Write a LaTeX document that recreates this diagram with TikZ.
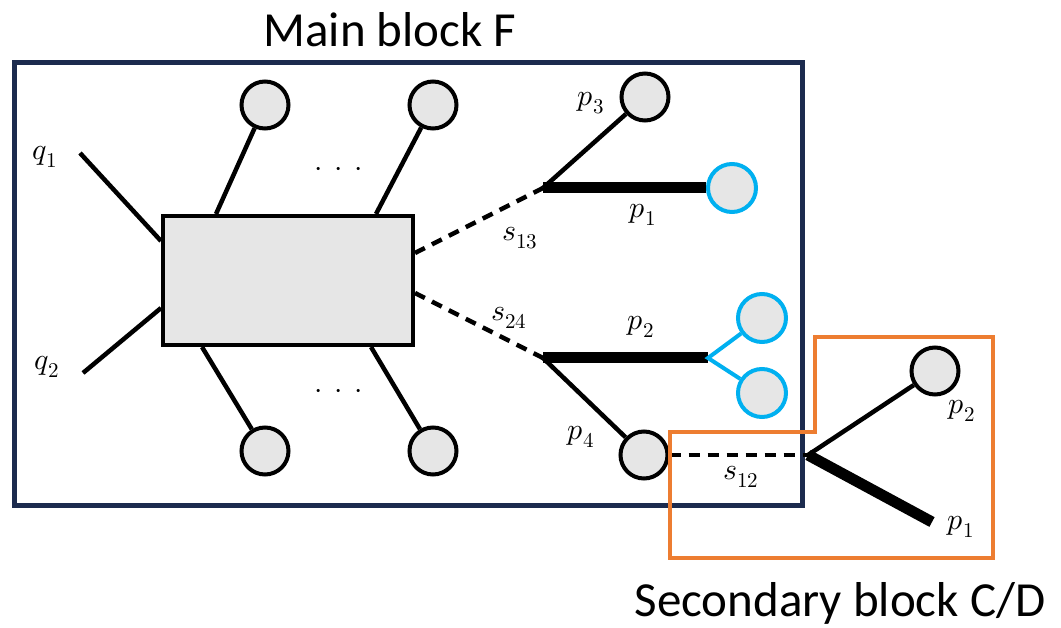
\documentclass[tikz,border=0pt]{standalone}
\usepackage{fontspec}
\usepackage{unicode-math}
\setmainfont{Carlito}
\setmathfont{Latin Modern Math}
\usetikzlibrary{calc}
\definecolor{navy}{HTML}{1C2B4E}
\definecolor{cyanline}{HTML}{00B0F0}
\definecolor{orangeline}{HTML}{ED7D31}
\definecolor{leaffill}{HTML}{E6E6E6}
\tikzset{
  leaf/.style={circle, draw=black, line width=4pt, fill=leaffill, minimum size=47pt, inner sep=0pt},
  cyanleaf/.style={leaf, draw=cyanline, minimum size=48pt},
  edge/.style={line width=4.5pt},
  heavy/.style={line width=11pt},
  dashedge/.style={line width=4.5pt, dash pattern=on 11pt off 8pt},
  lbl/.style={font=\fontsize{30}{36}\selectfont, inner sep=0pt},
  title/.style={font=\fontsize{49}{56}\selectfont, inner sep=0pt}
}
\newcommand{\gapdots}{$\cdot\,\cdot\,\cdot$}
\begin{document}
\begin{tikzpicture}[x=1pt,y=-1pt]
\useasboundingbox (0,0) rectangle (1061,628);

% main block frame and title
\draw[navy, line width=5pt] (14,63) rectangle (802,505);
\node[title] (maintitle) at (390,30) {Main block F};

% central vertex
\node[draw=black, line width=4pt, fill=leaffill, minimum width=250pt, minimum height=129pt, inner sep=0pt] (core) at (288,280.5) {};

% outer leaves of the central vertex
\node[leaf] (t1) at (265,105) {};
\node[leaf] (t2) at (433,105) {};
\node[leaf] (b1) at (265,451) {};
\node[leaf] (b2) at (433,451) {};
\draw[edge] ($(core.north west)+(55,0)$) -- (t1);
\draw[edge] ($(core.north west)+(215,0)$) -- (t2);
\draw[edge] ($(core.south west)+(41,0)$) -- (b1);
\draw[edge] ($(core.south west)+(210,0)$) -- (b2);
\node[lbl] (dtop) at (339,172) {\gapdots};
\node[lbl] (dbot) at (339,394) {\gapdots};

% incoming legs
\coordinate (q1end) at (80,153);
\coordinate (q2end) at (83,373);
\draw[edge] (q1end) -- ($(core.north west)+(0,27)$);
\draw[edge] (q2end) -- ($(core.south west)+(0,-39)$);
\node[lbl] (q1) at (45,157) {$q_1$};
\node[lbl] (q2) at (47,367) {$q_2$};

% upper decay
\coordinate (j1) at (543,188);
\node[leaf] (p3c) at (645,97) {};
\node[cyanleaf] (p1c) at (732,188) {};
\draw[dashedge] ($(core.north east)+(0,39)$) -- (j1);
\draw[edge] (j1) -- (p3c);
\draw[heavy] (j1) -- (p1c.west);
\node[lbl] (s13) at (520,238) {$s_{13}$};
\node[lbl] (p3) at (591,103) {$p_3$};
\node[lbl] (p1) at (643,215) {$p_1$};

% lower decay
\coordinate (j2) at (543,358);
\coordinate (j3) at (708,358);
\node[cyanleaf] (u1) at (762,318) {};
\node[cyanleaf] (u2) at (762,393) {};
\node[leaf] (p4c) at (644,455) {};
\draw[dashedge] ($(core.north east)+(0,79)$) -- (j2);
\draw[heavy] (j2) -- (j3);
\draw[cyanline, line width=4pt] (u1) -- (j3) -- (u2);
\draw[edge] (j2) -- (p4c);
\node[lbl] (s24) at (509,318) {$s_{24}$};
\node[lbl] (p2) at (641,327) {$p_2$};
\node[lbl] (p4) at (581,437) {$p_4$};

% secondary block
\coordinate (j4) at (808,455);
\coordinate (p1end) at (932,522);
\node[leaf] (p2c) at (935,371) {};
\draw[dashedge] (p4c) -- (j4);
\draw[edge] (j4) -- (p2c);
\draw[heavy] (j4) -- (p1end);
\node[lbl] (s12) at (741,477) {$s_{12}$};
\node[lbl] (p2b) at (962,411) {$p_2$};
\node[lbl] (p1b) at (961,527) {$p_1$};
\draw[orangeline, line width=4pt] (815,337) -- (993,337) -- (993,558) -- (670,558) -- (670,432) -- (815,432) -- cycle;
\node[title] (sectitle) at (840,603) {Secondary block C/D};
\end{tikzpicture}
\end{document}
